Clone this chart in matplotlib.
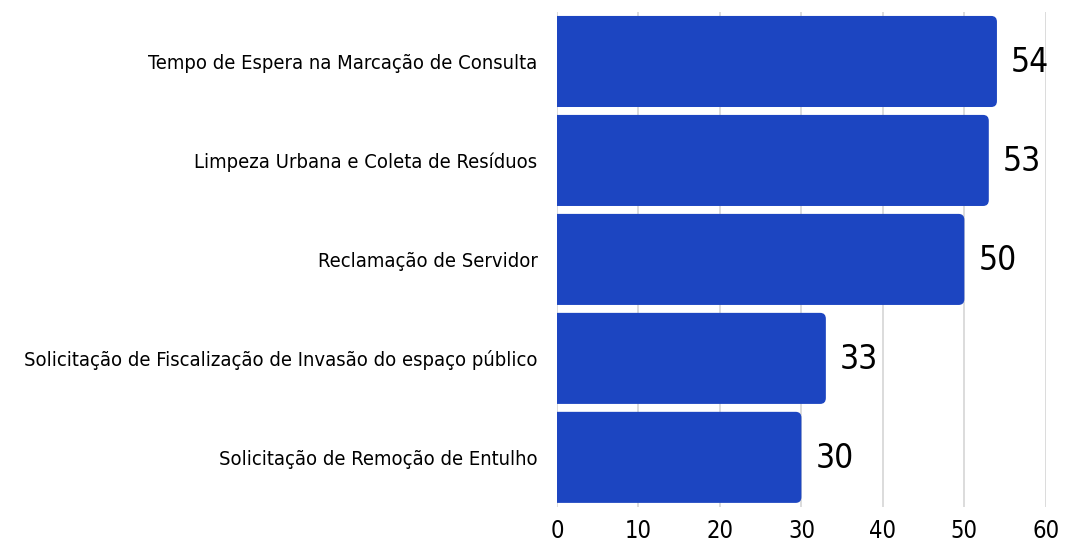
import matplotlib
matplotlib.use("Agg")
from matplotlib import pyplot as plt
from matplotlib.patches import FancyBboxPatch

categorias = [
    "Tempo de Espera na Marcação de Consulta",
    "Limpeza Urbana e Coleta de Resíduos",
    "Reclamação de Servidor",
    "Solicitação de Fiscalização de Invasão do espaço público",
    "Solicitação de Remoção de Entulho",
]
valores = [54, 53, 50, 33, 30]
xticks = [0, 10, 20, 30, 40, 50, 60]

cor = "#1c45c1"
fp = dict(family="DejaVu Sans", stretch="condensed")

fig = plt.figure(figsize=(10.65, 5.45), dpi=100)
ax = fig.add_axes([0.523, 0.070, 0.459, 0.908])

ypos = list(range(len(categorias)))
altura = 0.92
raio = 0.7
aspecto = 0.06 / raio

for y, v in zip(ypos, valores):
    # start a bit left of 0 so only the right corners look rounded
    p = FancyBboxPatch((-2, y - altura / 2), v + 2, altura,
                       boxstyle=f"round,pad=0,rounding_size={raio}",
                       mutation_aspect=aspecto, facecolor=cor, edgecolor="none",
                       zorder=3)
    ax.add_patch(p)
    ax.annotate(str(v), (v, y), xytext=(10, -0.5), textcoords="offset points",
                ha="left", va="center", fontsize=24, color="black", **fp)

ax.set_xlim(0, 60)
ax.set_ylim(len(categorias) - 0.5, -0.5)
ax.set_yticks(ypos)
ax.set_yticklabels(categorias, fontsize=14.5, **fp)
ax.set_xticks(xticks)
ax.set_xticklabels([str(t) for t in xticks], fontsize=17, **fp)
ax.tick_params(length=0)
ax.tick_params(axis="x", pad=9)
ax.tick_params(axis="y", pad=14)
ax.grid(axis="x", color="#d6d6d6", linewidth=1.2, zorder=0)
ax.set_axisbelow(True)
for s in ax.spines.values():
    s.set_visible(False)

fig.savefig("out.png", dpi=100)
